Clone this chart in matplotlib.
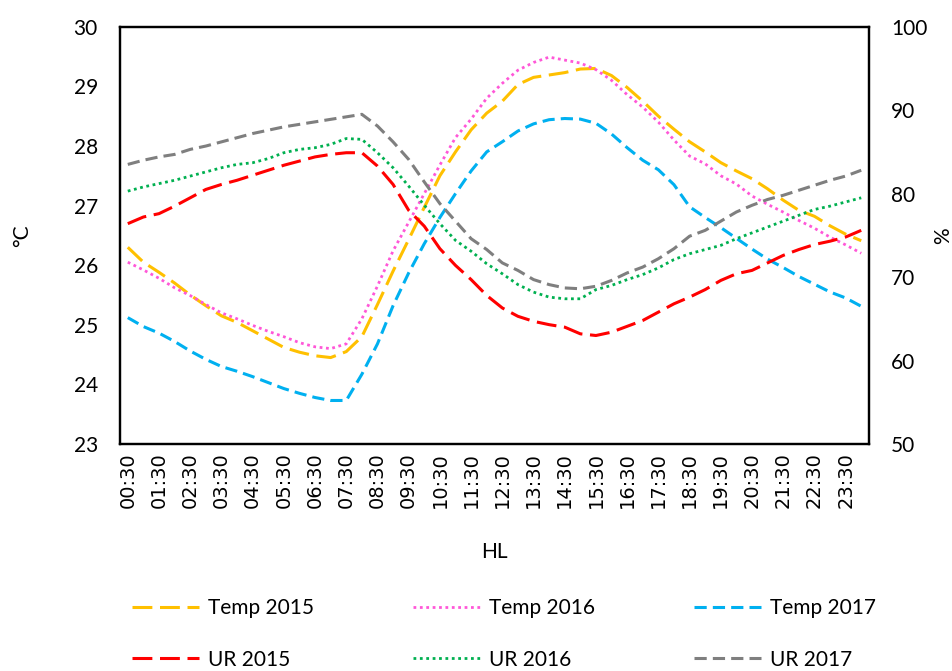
import matplotlib
matplotlib.use("Agg")
import matplotlib.pyplot as plt
import numpy as np

plt.rcParams['font.family'] = ['Lato', 'DejaVu Sans']

# half-hourly categories 00:30 ... 24:00
horas = ["%02d:%02d" % divmod(30 * (k + 1), 60) for k in range(48)]

temp_2015 = [26.30, 26.05, 25.88, 25.70, 25.50, 25.32, 25.15, 25.04, 24.90, 24.76,
             24.62, 24.54, 24.48, 24.45, 24.55, 24.80, 25.34, 25.90, 26.43, 26.97,
             27.50, 27.90, 28.27, 28.55, 28.75, 29.03, 29.15, 29.19, 29.23, 29.29,
             29.30, 29.18, 28.98, 28.75, 28.50, 28.28, 28.07, 27.90, 27.72, 27.58,
             27.45, 27.28, 27.09, 26.92, 26.82, 26.66, 26.52, 26.41]
temp_2016 = [26.05, 25.92, 25.78, 25.62, 25.49, 25.34, 25.20, 25.10, 24.99, 24.89,
             24.80, 24.70, 24.63, 24.60, 24.68, 25.10, 25.65, 26.24, 26.72, 27.20,
             27.68, 28.14, 28.45, 28.80, 29.05, 29.27, 29.40, 29.49, 29.44, 29.39,
             29.28, 29.10, 28.86, 28.65, 28.40, 28.10, 27.83, 27.70, 27.50, 27.36,
             27.16, 27.02, 26.89, 26.75, 26.62, 26.47, 26.34, 26.20]
temp_2017 = [25.12, 24.97, 24.86, 24.72, 24.56, 24.42, 24.30, 24.22, 24.13, 24.03,
             23.93, 23.85, 23.78, 23.73, 23.73, 24.17, 24.68, 25.32, 25.87, 26.36,
             26.80, 27.20, 27.58, 27.90, 28.07, 28.25, 28.37, 28.44, 28.46, 28.45,
             28.38, 28.20, 27.97, 27.76, 27.60, 27.35, 26.98, 26.80, 26.63, 26.45,
             26.27, 26.10, 25.96, 25.81, 25.68, 25.55, 25.45, 25.31]
ur_2015 = [76.4, 77.2, 77.6, 78.5, 79.5, 80.5, 81.1, 81.6, 82.2, 82.8,
           83.4, 83.9, 84.4, 84.7, 84.9, 84.9, 83.3, 81.1, 78.0, 76.1,
           73.4, 71.4, 69.7, 67.8, 66.3, 65.3, 64.7, 64.3, 64.0, 63.2,
           63.0, 63.4, 64.1, 64.8, 65.8, 66.8, 67.6, 68.5, 69.6, 70.4,
           70.8, 71.7, 72.6, 73.3, 73.9, 74.3, 74.8, 75.6]
ur_2016 = [80.3, 80.8, 81.2, 81.6, 82.1, 82.6, 83.1, 83.5, 83.7, 84.2,
           84.9, 85.3, 85.5, 85.9, 86.6, 86.5, 84.9, 83.1, 80.9, 78.6,
           76.4, 74.4, 73.1, 71.6, 70.4, 69.1, 68.2, 67.6, 67.4, 67.4,
           68.5, 69.0, 69.7, 70.3, 71.1, 72.1, 72.8, 73.3, 73.8, 74.6,
           75.3, 76.0, 76.7, 77.4, 78.1, 78.5, 79.0, 79.5]
ur_2017 = [83.5, 84.0, 84.4, 84.7, 85.3, 85.7, 86.2, 86.7, 87.2, 87.6,
           88.0, 88.3, 88.6, 88.9, 89.2, 89.5, 88.1, 86.2, 84.1, 81.4,
           78.8, 76.7, 74.6, 73.3, 71.7, 70.8, 69.7, 69.1, 68.7, 68.6,
           68.9, 69.6, 70.5, 71.2, 72.2, 73.4, 74.9, 75.6, 76.7, 77.8,
           78.6, 79.3, 79.8, 80.4, 81.0, 81.6, 82.1, 82.8]

x = np.arange(len(horas))

fig = plt.figure(figsize=(9.53, 6.71), dpi=100)
ax = fig.add_axes([0.1259, 0.3383, 0.786, 0.6219])
ax2 = ax.twinx()

lw = 2.2
l1, = ax.plot(x, temp_2015, color='#FFC000', lw=lw, dashes=(6.5, 2.5), label='Temp 2015')
l2, = ax.plot(x, temp_2016, color='#FF57D8', lw=2.0, dashes=(1, 1.3), label='Temp 2016')
l3, = ax.plot(x, temp_2017, color='#00B0F0', lw=lw, dashes=(4, 2), label='Temp 2017')
l4, = ax2.plot(x, ur_2015, color='#FF0000', lw=lw, dashes=(6.5, 2.5), label='UR 2015')
l5, = ax2.plot(x, ur_2016, color='#00B050', lw=2.0, dashes=(1, 1.3), label='UR 2016')
l6, = ax2.plot(x, ur_2017, color='#7F7F7F', lw=lw, dashes=(4, 2), label='UR 2017')

ax.set_xlim(-0.5, len(horas) - 0.5)
ax.set_ylim(23, 30)
ax2.set_ylim(50, 100)
ax.set_yticks(range(23, 31))
ax2.set_yticks(range(50, 101, 10))
ax.set_xticks(x[::2])
ax.set_xticklabels(horas[::2])

ax.tick_params(axis='y', length=0, labelsize=15, pad=16)
ax.tick_params(axis='x', length=0, pad=6, labelsize=14, labelrotation=90,
               labelfontfamily='DejaVu Sans')
ax2.tick_params(axis='y', length=0, labelsize=15, pad=16)

for a in (ax, ax2):
    for s in a.spines.values():
        s.set_linewidth(1.6)
        s.set_color('black')

ax.set_ylabel('°C', fontsize=15, labelpad=30)
ax2.set_ylabel('%', fontsize=15, labelpad=4)
ax.set_xlabel('HL', fontsize=15, labelpad=24)

fig.legend(handles=[l1, l4, l2, l5, l3, l6], loc='center', ncol=3,
           bbox_to_anchor=(0.529, 0.055), frameon=False, fontsize=15,
           handlelength=3.2, handletextpad=0.45, columnspacing=4.75,
           labelspacing=1.5)

fig.savefig('out.png', dpi=100)
